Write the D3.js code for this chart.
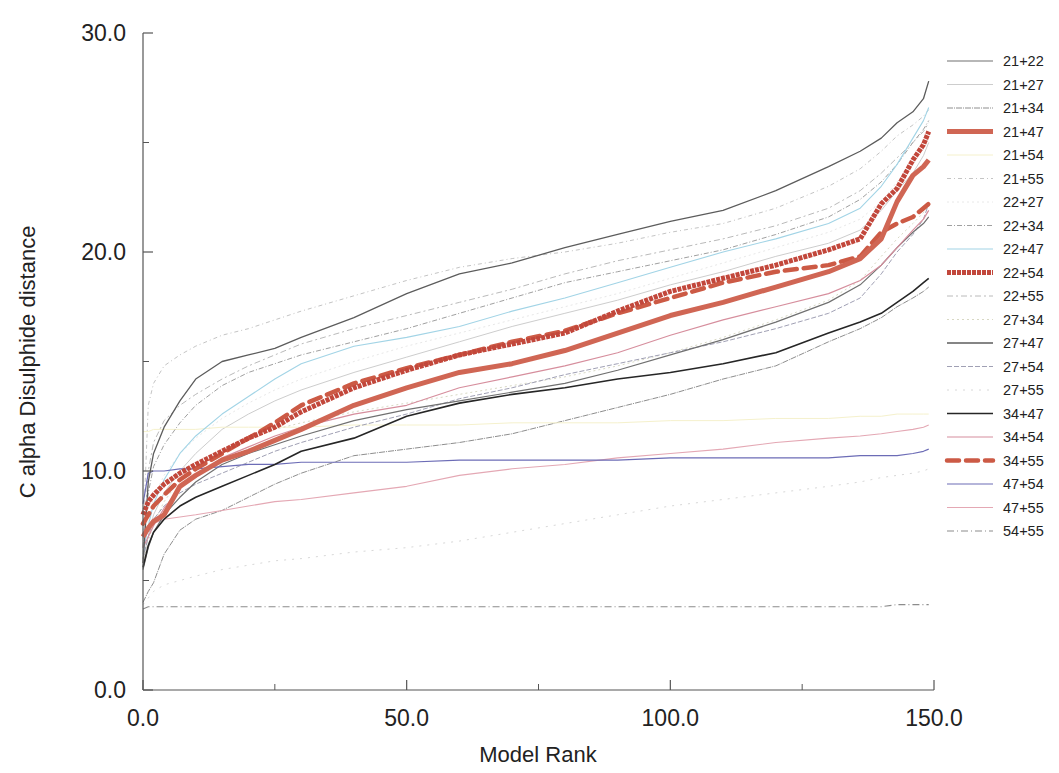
<!DOCTYPE html>
<html>
<head>
<meta charset="utf-8">
<script src="https://cdn.jsdelivr.net/npm/d3@7"></script>
<style>
  html, body { margin: 0; padding: 0; background: #fff; }
  svg { display: block; font-family: "Liberation Sans", Arial, sans-serif; }
</style>
</head>
<body>
<svg id="chart" width="1059" height="773"></svg>
<script>
// Model ranks at which each pair's C-alpha distance is sampled
const ranks = [0, 1, 2, 4, 7, 10, 15, 20, 25, 30, 40, 50, 60, 70, 80, 90, 100, 110, 120, 130, 136, 140, 143, 146, 148, 149];

// Cysteine pairs, in legend order
const pairs = ["21+22", "21+27", "21+34", "21+47", "21+54", "21+55", "22+27", "22+34", "22+47", "22+54",
               "22+55", "27+34", "27+47", "27+54", "27+55", "34+47", "34+54", "34+55", "47+54", "47+55", "54+55"];

// Distance values (Å) per pair, one value per rank above
const d21_22 = [5.5, 6.5, 7.2, 8.0, 8.8, 9.5, 10.3, 10.8, 11.2, 11.6, 12.3, 12.8, 13.2, 13.6, 14.0, 14.6, 15.3, 16.0, 16.8, 17.7, 18.5, 19.4, 20.2, 20.9, 21.3, 21.6];
const d21_27 = [6.0, 7.0, 8.0, 9.0, 10.0, 10.8, 11.9, 12.6, 13.2, 13.7, 14.5, 15.2, 15.9, 16.6, 17.2, 17.8, 18.5, 19.1, 19.8, 20.4, 21.0, 21.9, 22.8, 23.6, 24.4, 25.0];
const d21_34 = [4.0, 4.5, 4.9, 6.2, 7.3, 7.8, 8.2, 8.8, 9.4, 9.9, 10.7, 11.0, 11.3, 11.7, 12.3, 12.9, 13.5, 14.2, 14.8, 15.9, 16.5, 17.0, 17.5, 17.9, 18.2, 18.4];
const d21_47 = [7.0, 7.4, 7.7, 8.0, 9.3, 9.8, 10.5, 10.9, 11.4, 11.9, 13.0, 13.8, 14.5, 14.9, 15.5, 16.3, 17.1, 17.7, 18.4, 19.1, 19.7, 20.6, 22.3, 23.5, 23.9, 24.2];
const d21_54 = [11.8, 11.8, 11.9, 11.9, 11.9, 11.9, 12.0, 12.0, 12.0, 12.0, 12.1, 12.1, 12.1, 12.2, 12.2, 12.2, 12.3, 12.3, 12.4, 12.4, 12.5, 12.5, 12.6, 12.6, 12.6, 12.6];
const d21_55 = [7.0, 13.0, 14.0, 14.8, 15.3, 15.7, 16.2, 16.5, 16.9, 17.3, 18.0, 18.7, 19.3, 19.7, 20.0, 20.4, 20.9, 21.3, 22.0, 23.0, 23.8, 24.6, 25.3, 25.8, 26.2, 26.5];
const d22_27 = [6.3, 7.8, 8.8, 9.8, 10.8, 11.5, 12.4, 13.1, 13.7, 14.2, 15.0, 15.7, 16.3, 16.9, 17.5, 18.1, 18.8, 19.5, 20.2, 20.9, 21.5, 22.3, 23.2, 24.0, 24.7, 25.2];
const d22_34 = [6.5, 9.0, 10.2, 11.2, 12.2, 13.0, 13.9, 14.5, 14.9, 15.3, 15.9, 16.5, 17.2, 17.9, 18.6, 19.1, 19.6, 20.1, 20.8, 21.6, 22.4, 23.2, 24.0, 25.0, 25.6, 26.0];
const d22_47 = [6.2, 7.5, 8.5, 9.6, 10.8, 11.6, 12.6, 13.4, 14.2, 14.9, 15.7, 16.1, 16.6, 17.3, 17.9, 18.6, 19.3, 20.0, 20.6, 21.3, 22.0, 23.0, 24.0, 25.2, 26.0, 26.6];
const d22_54 = [8.0, 8.6, 8.9, 9.4, 9.9, 10.3, 10.9, 11.5, 12.0, 12.7, 13.8, 14.6, 15.3, 15.8, 16.3, 17.3, 18.2, 18.8, 19.4, 20.1, 20.6, 22.2, 22.9, 24.2, 24.9, 25.5];
const d22_55 = [6.5, 10.0, 11.3, 12.3, 13.0, 13.5, 14.2, 14.8, 15.3, 15.8, 16.5, 17.1, 17.7, 18.3, 19.0, 19.6, 20.1, 20.6, 21.2, 22.0, 22.8, 23.6, 24.3, 25.0, 25.5, 25.9];
const d27_34 = [5.8, 6.8, 7.6, 8.6, 9.6, 10.3, 11.0, 11.5, 11.9, 12.2, 12.7, 13.1, 13.5, 13.9, 14.3, 14.8, 15.4, 16.1, 16.9, 17.8, 18.7, 19.8, 20.6, 21.3, 21.8, 22.2];
const d27_47 = [5.8, 9.5, 10.8, 12.0, 13.2, 14.2, 15.0, 15.3, 15.6, 16.1, 17.0, 18.1, 19.0, 19.5, 20.2, 20.8, 21.4, 21.9, 22.8, 23.9, 24.6, 25.2, 25.9, 26.4, 27.0, 27.8];
const d27_54 = [6.0, 7.0, 7.8, 8.4, 9.0, 9.4, 9.9, 10.4, 10.9, 11.3, 12.0, 12.6, 13.3, 13.8, 14.4, 14.9, 15.4, 15.9, 16.5, 17.2, 17.9, 19.0, 20.0, 20.8, 21.5, 22.2];
const d27_55 = [3.9, 4.2, 4.5, 4.8, 5.0, 5.2, 5.5, 5.7, 5.9, 6.0, 6.3, 6.5, 6.8, 7.2, 7.6, 8.0, 8.4, 8.7, 9.0, 9.3, 9.5, 9.7, 9.8, 9.9, 10.0, 10.1];
const d34_47 = [5.6, 6.6, 7.2, 7.8, 8.4, 8.8, 9.3, 9.8, 10.3, 10.9, 11.5, 12.5, 13.1, 13.5, 13.8, 14.2, 14.5, 14.9, 15.4, 16.3, 16.8, 17.2, 17.7, 18.2, 18.6, 18.8];
const d34_54 = [6.5, 7.0, 7.5, 8.3, 9.2, 9.8, 10.6, 11.1, 11.6, 12.0, 12.6, 13.0, 13.8, 14.3, 14.8, 15.4, 16.2, 16.9, 17.5, 18.1, 18.7, 19.4, 20.2, 21.0, 21.5, 21.9];
const d34_55 = [7.6, 8.0, 8.4, 8.9, 9.6, 10.1, 10.8, 11.5, 12.2, 13.0, 14.0, 14.7, 15.3, 15.9, 16.4, 17.2, 17.9, 18.6, 19.1, 19.4, 19.8, 20.9, 21.3, 21.6, 22.0, 22.2];
const d47_54 = [8.5, 9.9, 10.0, 10.0, 10.1, 10.1, 10.2, 10.3, 10.3, 10.4, 10.4, 10.4, 10.5, 10.5, 10.5, 10.5, 10.6, 10.6, 10.6, 10.6, 10.7, 10.7, 10.7, 10.8, 10.9, 11.0];
const d47_55 = [7.0, 7.4, 7.6, 7.8, 7.9, 8.0, 8.2, 8.4, 8.6, 8.7, 9.0, 9.3, 9.8, 10.1, 10.3, 10.6, 10.8, 11.0, 11.3, 11.5, 11.6, 11.7, 11.8, 11.9, 12.0, 12.1];
const d54_55 = [3.7, 3.8, 3.8, 3.8, 3.8, 3.8, 3.8, 3.8, 3.8, 3.8, 3.8, 3.8, 3.8, 3.8, 3.8, 3.8, 3.8, 3.8, 3.8, 3.8, 3.8, 3.8, 3.9, 3.9, 3.9, 3.9];

const seriesValues = [d21_22, d21_27, d21_34, d21_47, d21_54, d21_55, d22_27, d22_34, d22_47, d22_54,
                      d22_55, d27_34, d27_47, d27_54, d27_55, d34_47, d34_54, d34_55, d47_54, d47_55, d54_55];

// Axis ticks
const xTicks = [0, 50, 100, 150];
const xMinorTicks = [25, 75, 125];
const yTicks = [0, 10, 20, 30];
const yMinorTicks = [5, 15, 25];

// Line styles per pair: colour, width, dash pattern
const styles = {
  "21+22": { c: "#707070", w: 1.2, d: null },
  "21+27": { c: "#cdcdcd", w: 1, d: null },
  "21+34": { c: "#8e8e8e", w: 1, d: "6,1,1,1" },
  "21+47": { c: "#d06654", w: 5, d: null },
  "21+54": { c: "#f5f1cc", w: 1, d: null },
  "21+55": { c: "#c4c4c4", w: 1, d: "4,3,1,3" },
  "22+27": { c: "#e8e8e8", w: 1, d: "2,3" },
  "22+34": { c: "#a0a0a0", w: 1, d: "5,2,1,2" },
  "22+47": { c: "#a2d4e6", w: 1.1, d: null },
  "22+54": { c: "#c2473b", w: 5, d: "4,1" },
  "22+55": { c: "#bababa", w: 1, d: "6,3,2,3" },
  "27+34": { c: "#d8d8c4", w: 1, d: "2,3" },
  "27+47": { c: "#5c5c5c", w: 1.3, d: null },
  "27+54": { c: "#a0a0b4", w: 1, d: "5,2" },
  "27+55": { c: "#d8d8d8", w: 1, d: "2,6" },
  "34+47": { c: "#262626", w: 1.6, d: null },
  "34+54": { c: "#d68e9d", w: 1.2, d: null },
  "34+55": { c: "#cc5a45", w: 4.5, d: "12,7" },
  "47+54": { c: "#6c6cb6", w: 1.2, d: null },
  "47+55": { c: "#e4a8b4", w: 1.1, d: null },
  "54+55": { c: "#8c8c8c", w: 1.1, d: "7,3,1,3" }
};

const svg = d3.select("#chart");
const x = d3.scaleLinear().domain([0, 150]).range([143, 934]);
const y = d3.scaleLinear().domain([0, 30]).range([690, 33]);

const axisColor = "#555";
const roundCap = s => (s.w > 4 && s.d && s.d.startsWith("12")) ? "round" : "butt";

// Series lines (thin ones first, thick red pairs on top)
const drawOrder = pairs.map((p, i) => i).sort((a, b) => styles[pairs[a]].w - styles[pairs[b]].w);
const line = d3.line().x(d => x(d[0])).y(d => y(d[1])).curve(d3.curveLinear);

const gLines = svg.append("g");
drawOrder.forEach(i => {
  const p = pairs[i], s = styles[p];
  const pts = ranks.map((r, k) => [r, seriesValues[i][k]]);
  gLines.append("path")
    .attr("d", line(pts))
    .attr("fill", "none")
    .attr("stroke", s.c)
    .attr("stroke-width", s.w)
    .attr("stroke-dasharray", s.d)
    .attr("stroke-linecap", roundCap(s))
    .attr("stroke-linejoin", "round");
});

// Axes: ticks point into the plot
const gx = svg.append("g");
gx.append("line").attr("x1", x(0)).attr("x2", x(150)).attr("y1", y(0)).attr("y2", y(0))
  .attr("stroke", axisColor).attr("stroke-width", 1.2);
gx.selectAll(".xmaj").data(xTicks).join("line")
  .attr("x1", d => x(d)).attr("x2", d => x(d)).attr("y1", y(0)).attr("y2", y(0) - 10)
  .attr("stroke", axisColor).attr("stroke-width", 1.2);
gx.selectAll(".xmin").data(xMinorTicks).join("line")
  .attr("x1", d => x(d)).attr("x2", d => x(d)).attr("y1", y(0)).attr("y2", y(0) - 6)
  .attr("stroke", axisColor).attr("stroke-width", 1);
gx.selectAll("text").data(xTicks).join("text")
  .attr("x", d => x(d)).attr("y", y(0) + 36)
  .attr("text-anchor", "middle")
  .attr("font-size", 23).attr("fill", "#222")
  .text(d => d.toFixed(1));

const gy = svg.append("g");
gy.append("line").attr("x1", x(0)).attr("x2", x(0)).attr("y1", y(0)).attr("y2", y(30))
  .attr("stroke", axisColor).attr("stroke-width", 1.2);
gy.selectAll(".ymaj").data(yTicks).join("line")
  .attr("x1", x(0)).attr("x2", x(0) + 10).attr("y1", d => y(d)).attr("y2", d => y(d))
  .attr("stroke", axisColor).attr("stroke-width", 1.2);
gy.selectAll(".ymin").data(yMinorTicks).join("line")
  .attr("x1", x(0)).attr("x2", x(0) + 6).attr("y1", d => y(d)).attr("y2", d => y(d))
  .attr("stroke", axisColor).attr("stroke-width", 1);
gy.selectAll("text").data(yTicks).join("text")
  .attr("x", x(0) - 17).attr("y", d => y(d) + 8)
  .attr("text-anchor", "end")
  .attr("font-size", 23).attr("fill", "#222")
  .text(d => d.toFixed(1));

// Axis titles
svg.append("text")
  .attr("x", 538).attr("y", 762)
  .attr("text-anchor", "middle").attr("font-size", 22).attr("fill", "#222")
  .text("Model Rank");
svg.append("text")
  .attr("transform", "translate(35,362) rotate(-90)")
  .attr("text-anchor", "middle").attr("font-size", 22).attr("fill", "#222")
  .text("C alpha Disulphide distance");

// Legend
const legend = svg.append("g");
pairs.forEach((p, i) => {
  const s = styles[p];
  const ly = 61 + i * 23.5;
  legend.append("line")
    .attr("x1", 947).attr("x2", 993).attr("y1", ly).attr("y2", ly)
    .attr("stroke", s.c).attr("stroke-width", s.w)
    .attr("stroke-dasharray", s.d)
    .attr("stroke-linecap", roundCap(s));
  legend.append("text")
    .attr("x", 1003).attr("y", ly + 5)
    .attr("font-size", 14.5).attr("fill", "#222")
    .text(p);
});
</script>
</body>
</html>
